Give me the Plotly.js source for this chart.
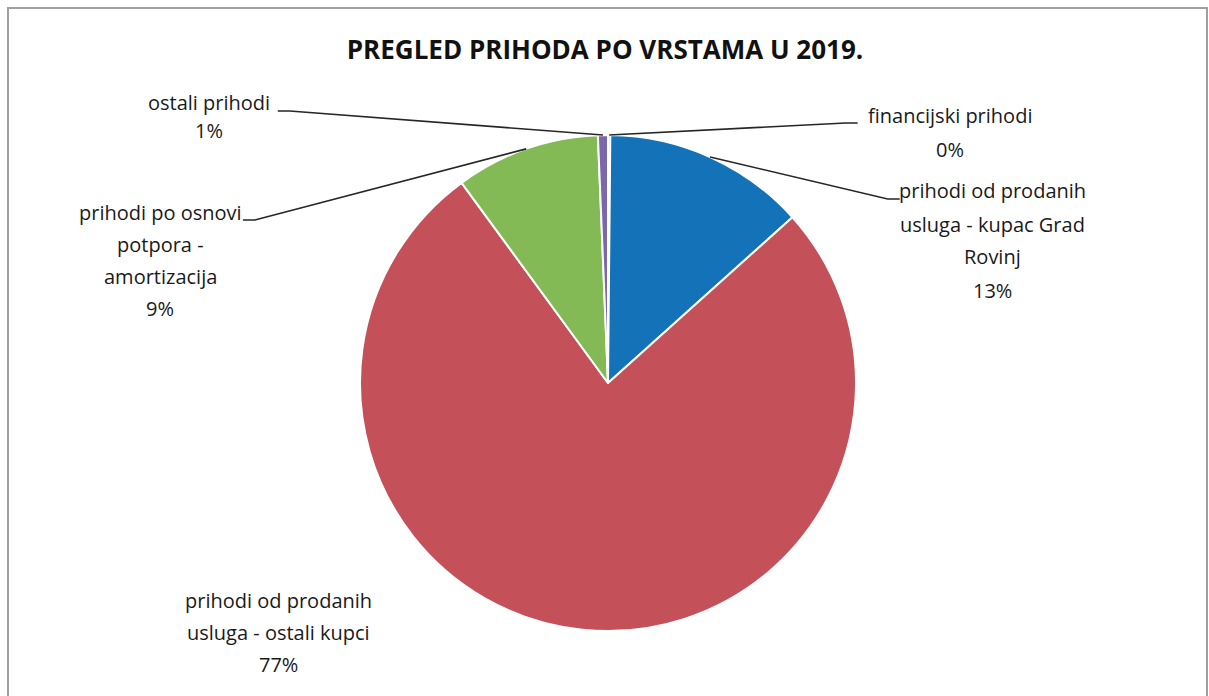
<!DOCTYPE html>
<html>
<head>
<meta charset="utf-8">
<script src="https://cdn.plot.ly/plotly-3.0.1.min.js"></script>
<style>
  html, body { margin: 0; padding: 0; background: #ffffff; }
  #chart { width: 1209px; height: 696px; }
</style>
</head>
<body>
<div id="chart"></div>
<script>
// Slices in clockwise order starting at 12 o'clock
const labels = [
  'financijski prihodi',
  'prihodi od prodanih usluga - kupac Grad Rovinj',
  'prihodi od prodanih usluga - ostali kupci',
  'prihodi po osnovi potpora - amortizacija',
  'ostali prihodi',
];
const values = [0.15, 13.2, 76.6, 9.4, 0.65];
const colors = ['#2a4f8f', '#1473b8', '#c4515a', '#84ba56', '#7a68ad'];

// Wrapped label lines, as in the original chart
const labelLines = [
  ['financijski prihodi'],
  ['prihodi od prodanih', 'usluga - kupac Grad', 'Rovinj'],
  ['prihodi od prodanih', 'usluga - ostali kupci'],
  ['prihodi po osnovi', 'potpora -', 'amortizacija'],
  ['ostali prihodi'],
];

const W = 1209, H = 696;
const FONT = '"Open Sans", Lato, sans-serif';
const TEXT_COLOR = '#1a1a1a';

// Pie placement (pixels)
const cx = 608, cy = 383, R = 248;
const domainX = [(cx - R) / W, (cx + R) / W];
const domainY = [1 - (cy + R) / H, 1 - (cy - R) / H];

// Label placement: [centre x, first line y, line gap, leader side ('l'/'r'/null)]
const labelPos = [
  [950, 115, 35, 'l'],
  [992, 191, 33, 'l'],
  [278, 600, 32, null],
  [160, 212, 32, 'r'],
  [209, 103, 28, 'r'],
];

const px = x => x / W;
const py = y => 1 - y / H;

// Percent text
const total = values.reduce((a, b) => a + b, 0);
const pctText = values.map(v => Math.round(v / total * 100) + '%');

const annotations = [];
const shapes = [];

let cum = 0;
values.forEach((v, i) => {
  const mid = (cum + v / 2) / total * 2 * Math.PI;  // clockwise from top
  cum += v;
  const lines = labelLines[i].concat([pctText[i]]);
  const [lx, ly, gap, side] = labelPos[i];
  lines.forEach((t, k) => {
    annotations.push({
      text: t, x: px(lx), y: py(ly + k * gap),
      xref: 'paper', yref: 'paper', xanchor: 'center', yanchor: 'middle',
      showarrow: false, font: { family: FONT, size: 20, color: TEXT_COLOR },
    });
  });
  if (side) {
    // leader line: from slice edge midpoint to the label's first line
    const ex = cx + R * Math.sin(mid), ey = cy - R * Math.cos(mid);
    const halfW = labelLines[i][0].length * 4.7;
    const tx = side === 'l' ? lx - halfW - 3 : lx + halfW + 3;
    const hx = side === 'l' ? tx - 12 : tx + 12;
    const ty = ly + 8;
    shapes.push({
      type: 'path', xref: 'paper', yref: 'paper',
      path: `M ${px(ex)} ${py(ey)} L ${px(hx)} ${py(ty)} L ${px(tx)} ${py(ty)}`,
      line: { color: '#262626', width: 1.6 },
    });
  }
});

// outer chart border
shapes.push({
  type: 'rect', xref: 'paper', yref: 'paper',
  x0: px(8), x1: px(1207), y0: py(700), y1: py(8),
  line: { color: '#a0a0a0', width: 2 },
});

Plotly.newPlot('chart', [{
  type: 'pie',
  labels: labels,
  values: values,
  sort: false,
  direction: 'clockwise',
  rotation: 0,
  textinfo: 'none',
  hoverinfo: 'label+percent',
  marker: { colors: colors, line: { color: '#ffffff', width: 2 } },
  domain: { x: domainX, y: domainY },
}], {
  title: {
    text: '<b>PREGLED PRIHODA PO VRSTAMA U 2019.</b>',
    x: 605 / W, xanchor: 'center',
    y: py(50), yanchor: 'middle',
    font: { family: FONT, size: 26, color: '#111111' },
  },
  showlegend: false,
  annotations: annotations,
  shapes: shapes,
  margin: { t: 0, r: 0, b: 0, l: 0 },
  paper_bgcolor: '#ffffff',
  plot_bgcolor: '#ffffff',
}, { displayModeBar: false, staticPlot: true });
</script>
</body>
</html>
